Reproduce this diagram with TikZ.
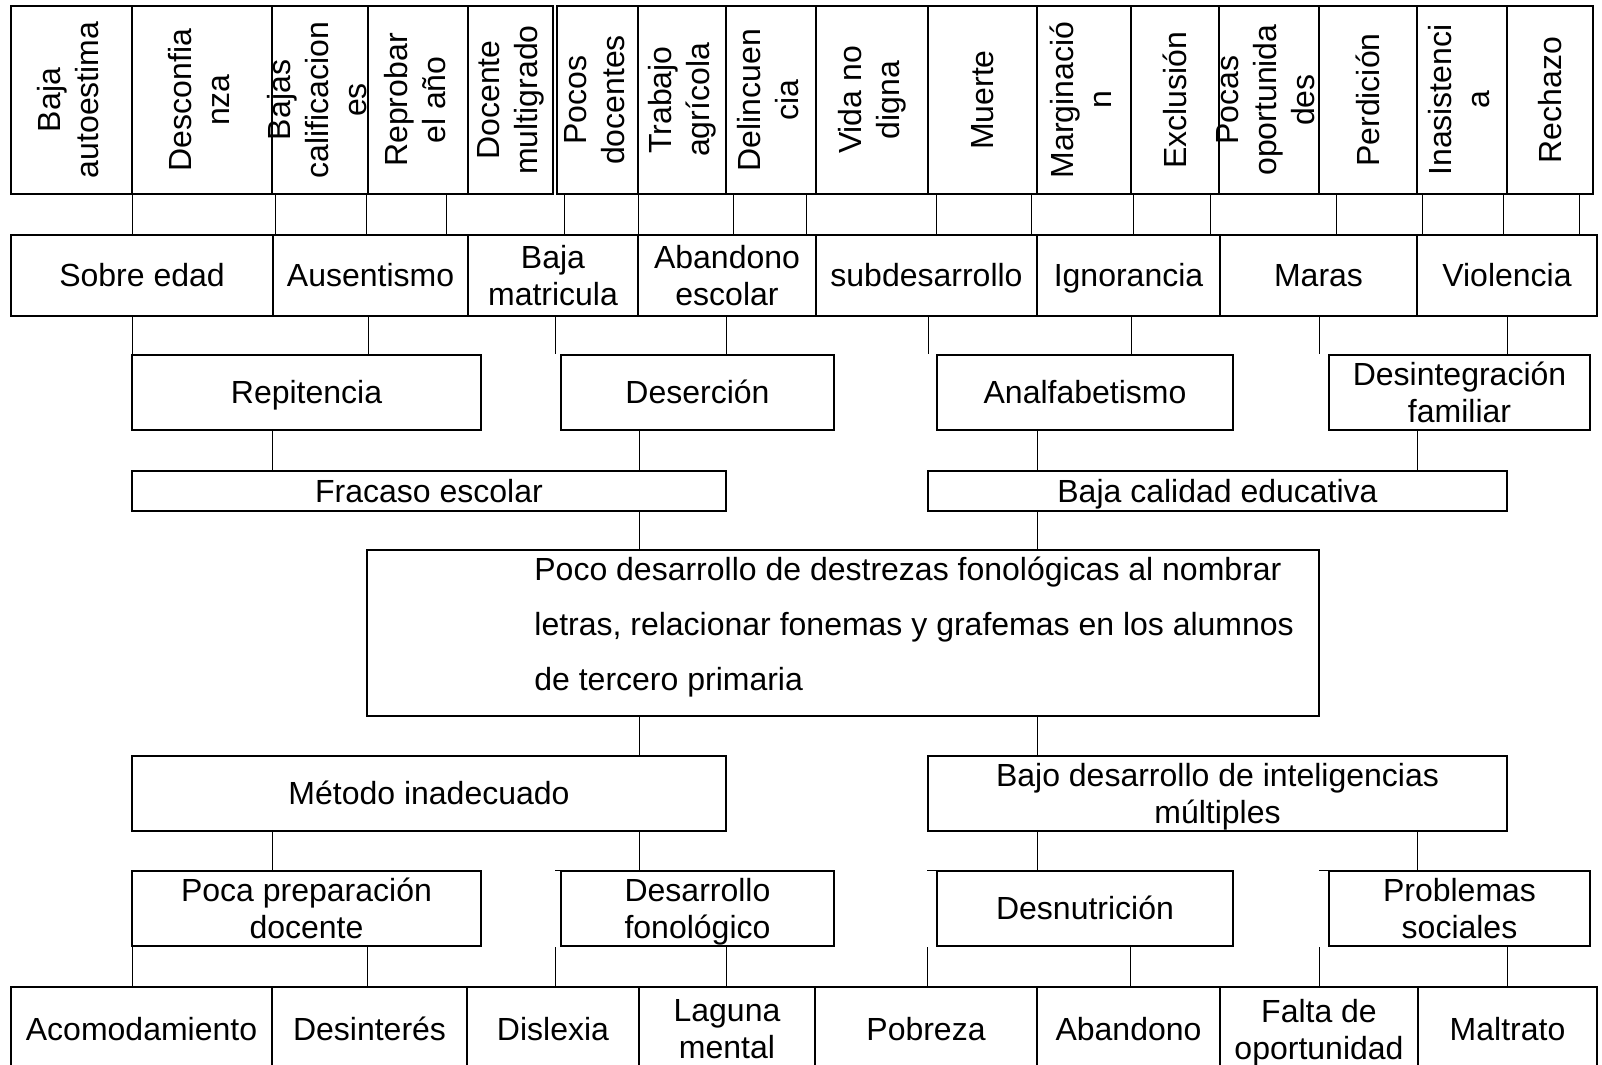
\documentclass[tikz,border=0pt]{standalone}
\usepackage{fontspec}
\setmainfont{Liberation Sans}
\usepackage{tikz}
\usetikzlibrary{fit}
\newcommand{\puntal}{\rule[-0.212em]{0pt}{1.117em}}
\tikzset{
  caja/.style={draw, line width=1pt, inner sep=0pt},
  cajat/.style={caja, line width=1.2pt},
  texto/.style={inner sep=0pt, align=center, font=\fontsize{16}{18.4}\selectfont,
    execute at begin node=\puntal, execute at end node=\puntal},
  texto2/.style={texto, yshift=-1.5pt},
  textov/.style={texto, rotate=90, font=\fontsize{16}{19}\selectfont},
  textol/.style={inner sep=0pt, align=left, font=\fontsize{16}{27.5}\selectfont},
  linea/.style={line width=0.5pt}
}
\newcommand{\caja}[6]{\node[caja, fit={(#2,#3) (#4,#5)}] (#1) {}; \node[texto] (#1t) at (#1.center) {#6};}
\newcommand{\cajad}[6]{\node[caja, fit={(#2,#3) (#4,#5)}] (#1) {}; \node[texto2] (#1t) at (#1.center) {#6};}
\newcommand{\cajav}[6]{\node[cajat, fit={(#2,#3) (#4,#5)}] (#1) {}; \node[textov] (#1t) at (#1.center) {#6};}

\begin{document}
\begin{tikzpicture}[x=0.5pt, y=-0.5pt]
        \useasboundingbox (0,0) rectangle (1602,1065);
        \clip (0,0) rectangle (1602,1065);
        \cajav{e1}{11}{6}{132}{194}{Baja\\autoestima}
        \cajav{e2}{132}{6}{272}{194}{Desconfia\\nza}
        \cajav{e3}{272}{6}{368}{194}{Bajas\\calificacion\\es}
        \cajav{e4}{368}{6}{468}{194}{Reprobar\\el año}
        \cajav{e5}{468}{6}{553}{194}{Docente\\multigrado}
        \cajav{e6}{557}{6}{638}{194}{Pocos\\docentes}
        \cajav{e7}{638}{6}{726}{194}{Trabajo\\agrícola}
        \cajav{e8}{726}{6}{816}{194}{Delincuen\\cia}
        \cajav{e9}{816}{6}{928}{194}{Vida no\\digna}
        \cajav{e10}{928}{6}{1037}{194}{Muerte}
        \cajav{e11}{1037}{6}{1131}{194}{Marginació\\n}
        \cajav{e12}{1131}{6}{1219}{194}{Exclusión}
        \cajav{e13}{1219}{6}{1319}{194}{Pocas\\oportunida\\des}
        \cajav{e14}{1319}{6}{1417}{194}{Perdición}
        \cajav{e15}{1417}{6}{1507}{194}{Inasistenci\\a}
        \cajav{e16}{1507}{6}{1593}{194}{Rechazo}

        \caja{f1}{11}{235}{273}{316}{Sobre edad}
        \caja{f2}{273}{235}{468}{316}{Ausentismo}
        \cajad{f3}{468}{235}{638}{316}{Baja\\matricula}
        \cajad{f4}{638}{235}{816}{316}{Abandono\\escolar}
        \caja{f5}{816}{235}{1037}{316}{subdesarrollo}
        \caja{f6}{1037}{235}{1220}{316}{Ignorancia}
        \caja{f7}{1220}{235}{1417}{316}{Maras}
        \caja{f8}{1417}{235}{1597}{316}{Violencia}

        \caja{g1}{132}{355}{481}{430}{Repitencia}
        \caja{g2}{561}{355}{834}{430}{Deserción}
        \caja{g3}{937}{355}{1233}{430}{Analfabetismo}
        \cajad{g4}{1329}{355}{1590}{430}{Desintegración\\familiar}

        \caja{h1}{132}{471}{726}{511}{Fracaso escolar}
        \caja{h2}{928}{471}{1507}{511}{Baja calidad educativa}

        \node[caja, fit={(367,550) (1319,716)}] (prob) {};
        \node[textol, anchor=west] (probt) at (534,627) {Poco desarrollo de destrezas fonológicas al nombrar\\letras, relacionar fonemas y grafemas en los alumnos\\de tercero primaria};

        \caja{m1}{132}{756}{726}{831}{Método inadecuado}
        \cajad{m2}{928}{756}{1507}{831}{Bajo desarrollo de inteligencias\\múltiples}

        \cajad{k1}{132}{871}{481}{946}{Poca preparación\\docente}
        \cajad{k2}{561}{871}{834}{946}{Desarrollo\\fonológico}
        \caja{k3}{937}{871}{1233}{946}{Desnutrición}
        \cajad{k4}{1329}{871}{1590}{946}{Problemas\\sociales}

        \caja{r1}{11}{987}{272}{1072}{Acomodamiento}
        \caja{r2}{272}{987}{467}{1072}{Desinterés}
        \caja{r3}{467}{987}{639}{1072}{Dislexia}
        \cajad{r4}{639}{987}{815}{1072}{Laguna\\mental}
        \caja{r5}{815}{987}{1037}{1072}{Pobreza}
        \caja{r6}{1037}{987}{1220}{1072}{Abandono}
        \cajad{r7}{1220}{987}{1418}{1072}{Falta de\\oportunidad}
        \caja{r8}{1418}{987}{1597}{1072}{Maltrato}

        \foreach \x/\a/\b in {132/e1/f1, 275/e3/f2, 366/e3/f2, 446/e4/f2, 564/e6/f3, 638.5/e7/f4, 733/e8/f4, 806.5/e8/f4, 936/e10/f5, 1031/e10/f5, 1133/e12/f6, 1210/e12/f6, 1336/e14/f7, 1422/e15/f8, 1503/e15/f8, 1579/e16/f8}
            \draw[linea] (\a.south -| \x,0) -- (\b.north -| \x,0);
        \foreach \x/\a/\b in {132/f1/g1, 368/f2/g1, 555/f3/g2, 726/f4/g2, 928/f5/g3, 1131/f6/g3, 1319/f7/g4, 1507/f8/g4, 272/g1/h1, 639/g2/h1, 1037/g3/h2, 1417/g4/h2, 639/h1/prob, 1037/h2/prob, 639/prob/m1, 1037/prob/m2, 272/m1/k1, 639/m1/k2, 1037/m2/k3, 1417/m2/k4, 132/k1/r1, 367/k1/r2, 555/k2/r3, 726/k2/r4, 927/k3/r5, 1130/k3/r6, 1319/k4/r7, 1507/k4/r8}
            \draw[linea] (\a.south -| \x,0) -- (\b.north -| \x,0);
        \draw[linea] (k2.north west) -- (k2.north west -| 555,0);
        \draw[linea] (k3.north west) -- (k3.north west -| 927,0);
        \draw[linea] (k4.north west) -- (k4.north west -| 1319,0);
\end{tikzpicture}
\end{document}
